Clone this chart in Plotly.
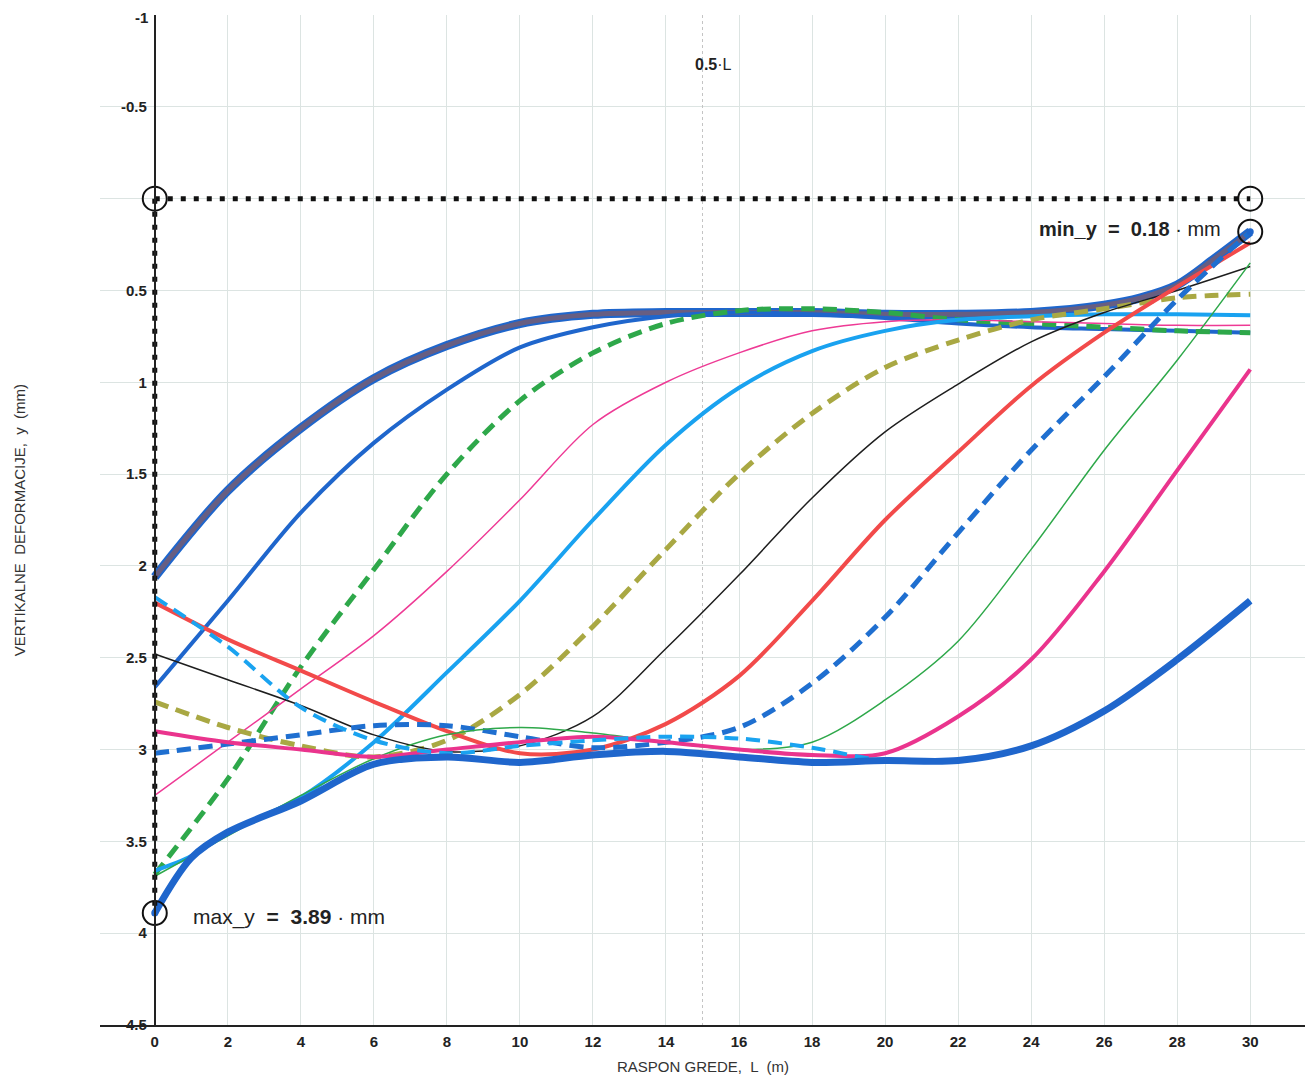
import plotly.graph_objects as go

# ---------------- data ----------------
X_EVEN = [0, 2, 4, 6, 8, 10, 12, 14, 16, 18, 20, 22, 24, 26, 28, 30]
X_START = [0, 1, 2, 4, 6, 8, 10, 12, 14, 16, 18, 20, 22, 24, 26, 28, 30]
X_END = [0, 2, 4, 6, 8, 10, 12, 14, 16, 18, 20, 22, 24, 26, 27, 28, 29, 30]

Y_SLATE = [2.06, 1.59, 1.25, 0.98, 0.80, 0.68, 0.63, 0.62, 0.62, 0.62, 0.63, 0.63, 0.62, 0.58, 0.54, 0.47, 0.33, 0.18]
Y_BLUE_MED = [2.66, 2.19, 1.71, 1.33, 1.04, 0.81, 0.70, 0.64, 0.62, 0.63, 0.65, 0.68, 0.70, 0.71, 0.72, 0.73]
Y_GREEN_DASH = [3.68, 3.16, 2.55, 2.02, 1.50, 1.10, 0.84, 0.68, 0.61, 0.60, 0.62, 0.66, 0.68, 0.70, 0.72, 0.73]
Y_PINK_THIN = [3.25, 2.96, 2.67, 2.38, 2.03, 1.64, 1.23, 1.00, 0.84, 0.72, 0.67, 0.66, 0.67, 0.68, 0.69, 0.69]
Y_LIGHT_BLUE = [3.66, 3.58, 3.45, 3.26, 2.96, 2.58, 2.19, 1.75, 1.34, 1.03, 0.83, 0.72, 0.66, 0.64, 0.63, 0.63, 0.635]
Y_OLIVE_DASH = [2.74, 2.88, 2.98, 3.04, 2.95, 2.70, 2.33, 1.91, 1.50, 1.17, 0.92, 0.77, 0.66, 0.60, 0.54, 0.52]
Y_BLACK = [2.48, 2.62, 2.76, 2.92, 3.01, 2.98, 2.82, 2.45, 2.05, 1.63, 1.27, 1.01, 0.78, 0.62, 0.50, 0.37]
Y_RED = [2.20, 2.40, 2.57, 2.74, 2.90, 3.02, 3.00, 2.86, 2.60, 2.19, 1.75, 1.38, 1.02, 0.73, 0.48, 0.24]
Y_BLUE_DASH = [3.02, 2.97, 2.92, 2.87, 2.87, 2.93, 2.99, 2.96, 2.88, 2.64, 2.28, 1.82, 1.37, 0.97, 0.55, 0.18]
Y_GREEN_THIN = [3.69, 3.58, 3.47, 3.25, 3.05, 2.92, 2.88, 2.91, 2.96, 3.00, 2.96, 2.73, 2.41, 1.91, 1.37, 0.88, 0.35]
Y_MAGENTA = [2.90, 2.96, 3.00, 3.04, 3.00, 2.96, 2.93, 2.96, 3.00, 3.03, 3.02, 2.82, 2.51, 2.03, 1.48, 0.93]
Y_LIGHT_BLUE_DASH = [2.17, 2.44, 2.77, 2.95, 3.02, 2.98, 2.95, 2.93, 2.94, 2.99, 3.06, 3.06, 2.98, 2.79, 2.51, 2.19]
Y_BLUE_THICK = [3.89, 3.59, 3.45, 3.28, 3.08, 3.04, 3.07, 3.03, 3.01, 3.04, 3.07, 3.06, 3.06, 2.98, 2.79, 2.51, 2.19]

SPAN_L = 30
MAX_Y = 3.89
MIN_Y = 0.18

X_TICKS = list(range(0, 31, 2))
Y_TICKS = [-0.5, 0, 0.5, 1, 1.5, 2, 2.5, 3, 3.5, 4, 4.5]
Y_TICK_TEXT = ["-0.5", "", "0.5", "1", "1.5", "2", "2.5", "3", "3.5", "4", "4.5"]
Y_TOP = -1

# ---------------- figure ----------------
fig = go.Figure()


def add_curve(x, y, color, width, dash="solid"):
    fig.add_trace(go.Scatter(
        x=x, y=y, mode="lines",
        line=dict(color=color, width=width, dash=dash, shape="spline", smoothing=0.9),
        hoverinfo="skip", showlegend=False,
    ))


DASH = "14px,8px"

# reference line at 0.5·L
fig.add_trace(go.Scatter(x=[SPAN_L / 2, SPAN_L / 2], y=[Y_TOP, 4.5], mode="lines",
                         line=dict(color="#c4c4c4", width=1, dash="dot"),
                         hoverinfo="skip", showlegend=False))

add_curve(X_END, Y_SLATE, "#1f66cc", 9)
add_curve(X_END, Y_SLATE, "#675e82", 5)
add_curve(X_EVEN, Y_BLUE_MED, "#1f66cc", 4)
add_curve(X_EVEN, Y_GREEN_DASH, "#2ea84a", 5, DASH)
add_curve(X_EVEN, Y_PINK_THIN, "#ee3a95", 1.5)
add_curve(X_START, Y_LIGHT_BLUE, "#19a2f0", 4)
add_curve(X_EVEN, Y_OLIVE_DASH, "#a9a843", 5, DASH)
add_curve(X_EVEN, Y_BLACK, "#1e1e1e", 1.5)
add_curve(X_EVEN, Y_RED, "#f24a4a", 4)
add_curve(X_EVEN, Y_BLUE_DASH, "#1f6fd0", 5, DASH)
add_curve(X_START, Y_GREEN_THIN, "#2ea84a", 1.5)
add_curve(X_EVEN, Y_MAGENTA, "#ea348d", 4)
add_curve(X_EVEN, Y_LIGHT_BLUE_DASH, "#1aa3f0", 4, DASH)
add_curve(X_START, Y_BLUE_THICK, "#1f66cc", 7)

# dotted min / max guide lines
fig.add_trace(go.Scatter(x=[0, SPAN_L], y=[0, 0], mode="lines",
                         line=dict(color="#111", width=5, dash="5px,8px"),
                         hoverinfo="skip", showlegend=False))
fig.add_trace(go.Scatter(x=[0, 0], y=[0, MAX_Y], mode="lines",
                         line=dict(color="#111", width=5, dash="5px,8px"),
                         hoverinfo="skip", showlegend=False))

# circles at extreme points
fig.add_trace(go.Scatter(
    x=[0, SPAN_L, SPAN_L, 0], y=[0, 0, MIN_Y, MAX_Y], mode="markers",
    marker=dict(symbol="circle-open", size=24, color="#111", line=dict(width=2, color="#111")),
    hoverinfo="skip", showlegend=False))
fig.add_trace(go.Scatter(
    x=[SPAN_L, 0], y=[MIN_Y, MAX_Y], mode="markers",
    marker=dict(symbol="circle", size=7, color="#1f66cc"),
    hoverinfo="skip", showlegend=False))

tick_font = dict(family="Liberation Sans, Arial, sans-serif", size=15, color="#222", weight="bold")

fig.update_layout(
    width=1300, height=1070,
    margin=dict(l=92, r=3, t=7, b=53),
    paper_bgcolor="white", plot_bgcolor="white",
    xaxis=dict(
        range=[-1.5, 31.5], tickvals=X_TICKS, tickfont=tick_font,
        showgrid=True, gridcolor="#dce4e2", gridwidth=1, zeroline=False,
        showline=True, linecolor="#222", linewidth=2, ticks="", ticklabelstandoff=2,
    ),
    yaxis=dict(
        range=[4.5, Y_TOP], tickvals=Y_TICKS, ticktext=Y_TICK_TEXT, tickfont=tick_font,
        showgrid=True, gridcolor="#dce4e2", gridwidth=1, zeroline=False,
        showline=True, linecolor="#222", linewidth=2, ticks="",
        anchor="free", position=1.5 / 33, ticklabelstandoff=4,
    ),
    font=dict(family="Liberation Sans, Arial, sans-serif"),
    annotations=[
        dict(text=str(Y_TOP), x=0, y=Y_TOP, xref="x", yref="y", xanchor="right",
             yanchor="middle", xshift=-5, yshift=-2, showarrow=False, font=tick_font),
        dict(text="RASPON GREDE,  L  (m)", xref="paper", yref="paper", x=0.5, y=-0.041,
             xanchor="center", yanchor="middle", showarrow=False,
             font=dict(size=15, color="#333")),
        dict(text="VERTIKALNE  DEFORMACIJE,  y  (mm)", xref="paper", yref="paper",
             x=-0.067, y=0.5, textangle=-90, xanchor="center", yanchor="middle",
             showarrow=False, font=dict(size=15, color="#333")),
        dict(text="<b>0.5</b>·L", x=15.3, y=-0.73, xref="x", yref="y", showarrow=False,
             xanchor="center", yanchor="middle", font=dict(size=16, color="#222")),
        dict(text="max_y  <b>=  3.89</b> · mm", x=1.0, y=3.91, xref="x", yref="y",
             showarrow=False, xanchor="left", yanchor="middle",
             font=dict(size=21, color="#222")),
        dict(text="<b>min_y  =  0.18</b> · mm", x=29.25, y=0.165, xref="x", yref="y",
             showarrow=False, xanchor="right", yanchor="middle",
             font=dict(size=20, color="#222")),
    ],
)

fig.write_html("out.html")
